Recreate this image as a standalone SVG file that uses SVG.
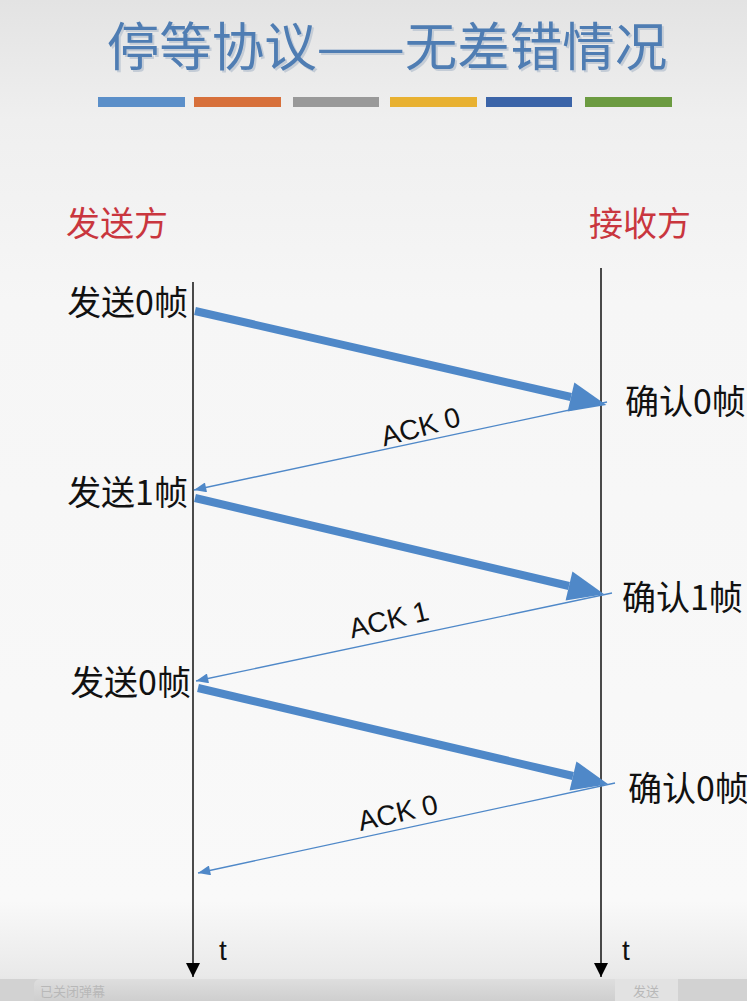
<svg xmlns="http://www.w3.org/2000/svg" width="747" height="1001" viewBox="0 0 747 1001">
  <defs>
    <linearGradient id="bg" x1="0" y1="0" x2="0" y2="1">
      <stop offset="0" stop-color="#e3e3e3"/>
      <stop offset="0.12" stop-color="#efefef"/>
      <stop offset="0.3" stop-color="#f6f6f6"/>
      <stop offset="0.9" stop-color="#f9f9f9"/>
      <stop offset="0.975" stop-color="#e9e9e9"/>
      <stop offset="1" stop-color="#dcdcdc"/>
    </linearGradient>
    <linearGradient id="strip" x1="0" y1="0" x2="0" y2="1">
      <stop offset="0" stop-color="#dedede"/>
      <stop offset="1" stop-color="#c9c9c9"/>
    </linearGradient>
    <marker id="thickHead" markerUnits="userSpaceOnUse" markerWidth="40" markerHeight="30" refX="0" refY="12" orient="auto" viewBox="0 0 30 24">
      <path d="M0,0 L29,12 L0,24 z" fill="#4f88c8"/>
    </marker>
    <marker id="thinHead" markerUnits="userSpaceOnUse" markerWidth="14" markerHeight="10" refX="11" refY="4.5" orient="auto" viewBox="0 0 11 9">
      <path d="M0,0 L11,4.5 L0,9 z" fill="#4f88c8"/>
    </marker>
    <marker id="timeHead" markerUnits="userSpaceOnUse" markerWidth="14" markerHeight="14" refX="12" refY="6" orient="auto" viewBox="0 0 12 12">
      <path d="M0,0 L12,6 L0,12 z" fill="#000"/>
    </marker>
  </defs>
  <style>
    .cjk { font-family: "Noto Sans CJK SC", "Noto Sans", sans-serif; }
    .title { font-size: 52.5px; fill: #4f7db3; }
    .shadow { font-size: 52.5px; fill: #c4ccd6; }
    .role { font-size: 34px; fill: #c9363e; }
    .lbl { font-size: 34px; fill: #111; }
    .ack { font-family: "Liberation Sans", Arial, sans-serif; font-size: 28px; fill: #111; }
    .t { font-family: "Liberation Sans", Arial, sans-serif; font-size: 28px; fill: #111; }
    .timeline { stroke: #000; stroke-width: 1.4; fill: none; marker-end: url(#timeHead); }
    .frame { stroke: #4f88c8; stroke-width: 8; fill: none; marker-end: url(#thickHead); }
    .ackline { stroke: #4f88c8; stroke-width: 1.3; fill: none; marker-end: url(#thinHead); }
    .faint { font-size: 13px; fill: #b8b8b8; }
  </style>

  <rect x="0" y="0" width="747" height="1001" fill="url(#bg)"/>

  <g id="title">
    <text class="cjk shadow" x="389" y="68" text-anchor="middle">停等协议——无差错情况</text>
    <text class="cjk title" x="387" y="66" text-anchor="middle">停等协议——无差错情况</text>
    <rect x="98" y="97" width="87" height="10" fill="#5b8fc9"/>
    <rect x="194" y="97" width="87" height="10" fill="#d7703b"/>
    <rect x="293" y="97" width="86" height="10" fill="#999999"/>
    <rect x="390" y="97" width="87" height="10" fill="#e8b131"/>
    <rect x="486" y="97" width="86" height="10" fill="#3b64a8"/>
    <rect x="585" y="97" width="87" height="10" fill="#6c9b41"/>
  </g>

  <g id="sender">
    <text class="cjk role" x="66" y="236">发送方</text>
    <path class="timeline" d="M193,282 L193,977"/>
    <text class="t" x="219" y="960">t</text>
  </g>

  <g id="receiver">
    <text class="cjk role" x="589" y="236">接收方</text>
    <path class="timeline" d="M601,268 L601,977"/>
    <text class="t" x="622" y="960">t</text>
  </g>

  <g id="send-labels">
    <text class="cjk lbl" x="188" y="315" text-anchor="end">发送0帧</text>
    <text class="cjk lbl" x="188" y="505" text-anchor="end">发送1帧</text>
    <text class="cjk lbl" x="191" y="695" text-anchor="end">发送0帧</text>
  </g>

  <g id="recv-labels">
    <text class="cjk lbl" x="625" y="414">确认0帧</text>
    <text class="cjk lbl" x="622" y="610">确认1帧</text>
    <text class="cjk lbl" x="628" y="801">确认0帧</text>
  </g>

  <g id="connectors">
    <path class="frame" d="M195,311 L571,397"/>
    <path class="ackline" d="M607,402 L194,490"/>
    <path class="frame" d="M195,498 L569,586"/>
    <path class="ackline" d="M612,593 L196,681"/>
    <path class="frame" d="M198,688 L573,776"/>
    <path class="ackline" d="M615,783 L198,873"/>
  </g>

  <g id="ack-labels">
    <text class="ack" x="0" y="0" text-anchor="middle" transform="translate(423,436) rotate(-15)">ACK 0</text>
    <text class="ack" x="0" y="0" text-anchor="middle" transform="translate(391,629) rotate(-13.5)">ACK 1</text>
    <text class="ack" x="0" y="0" text-anchor="middle" transform="translate(400,822) rotate(-13)">ACK 0</text>
  </g>

  <g id="player-bar">
    <rect x="0" y="979" width="747" height="22" fill="#d2d2d2"/>
    <rect x="34" y="979" width="644" height="30" rx="6" fill="url(#strip)"/>
    <rect x="615" y="979" width="63" height="30" fill="#e2e2e2"/>
    <text class="cjk faint" x="40" y="996">已关闭弹幕</text>
    <text class="cjk faint" x="633" y="996">发送</text>
  </g>
</svg>
